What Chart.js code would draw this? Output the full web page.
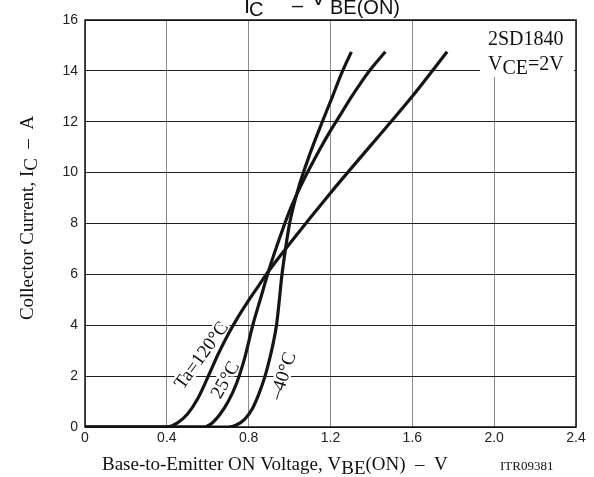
<!DOCTYPE html>
<html>
<head>
<meta charset="utf-8">
<title>IC - VBE(ON)</title>
<script src="https://cdn.jsdelivr.net/npm/chart.js@4.4.1/dist/chart.umd.min.js"></script>
<style>
  html, body { margin: 0; padding: 0; background: #fff; }
  #wrap { width: 594px; height: 477px; }
</style>
</head>
<body>
<div id="wrap"><canvas id="chart" width="594" height="477"></canvas></div>
<script>
// Base-to-emitter voltage (V) and collector current (A) for each temperature
const ta120V = [0, 0.40, 0.45, 0.50, 0.55, 0.60, 0.65, 0.70, 0.75, 0.80, 0.85, 0.90, 1.00, 1.20, 1.40, 1.60, 1.77];
const ta120I = [0, 0, 0.15, 0.5, 1.1, 1.95, 2.85, 3.65, 4.35, 4.98, 5.57, 6.15, 7.2, 9.2, 11.1, 13.0, 14.75];

const ta25V = [0, 0.58, 0.62, 0.66, 0.70, 0.74, 0.78, 0.82, 0.86, 0.90, 0.95, 1.00, 1.05, 1.10, 1.15, 1.20, 1.25, 1.30, 1.35, 1.40, 1.468];
const ta25I = [0, 0, 0.15, 0.5, 1.0, 1.7, 2.7, 4.0, 5.1, 6.2, 7.4, 8.5, 9.4, 10.2, 10.95, 11.65, 12.3, 12.95, 13.55, 14.1, 14.75];

const tam40V = [0, 0.70, 0.74, 0.78, 0.82, 0.85, 0.88, 0.90, 0.92, 0.936, 0.95, 0.96, 0.98, 1.00, 1.04, 1.10, 1.16, 1.21, 1.254, 1.302];
const tam40I = [0, 0, 0.08, 0.3, 0.75, 1.3, 2.0, 2.6, 3.3, 4.0, 5.0, 5.8, 7.0, 8.0, 9.3, 10.75, 12.0, 13.0, 13.9, 14.75];

// Axis ranges
const xMin = 0, xMax = 2.4, xStep = 0.4;
const yMin = 0, yMax = 16, yStep = 2;

// Curve labels: text, anchor in data units, rotation in degrees
const curveLabels = [
  { text: 'Ta=120°C', v: 0.572, i: 2.8, angle: -54 },
  { text: '25°C', v: 0.688, i: 1.84, angle: -60 },
  { text: '–40°C', v: 0.971, i: 2.0, angle: -72 }
];

const SERIF = '"Liberation Serif", "Times New Roman", serif';
const SANS = '"Liberation Sans", Arial, sans-serif';

function toPoints(xs, ys) {
  return xs.map((x, k) => ({ x: x, y: ys[k] }));
}

function curve(xs, ys) {
  return {
    data: toPoints(xs, ys),
    showLine: true,
    borderColor: '#151515',
    borderWidth: 3.2,
    pointRadius: 0,
    fill: false,
    cubicInterpolationMode: 'monotone'
  };
}

// draw a run of text pieces [text, font, dy] one after another
function partsWidth(ctx, parts) {
  let w = 0;
  parts.forEach(p => { ctx.font = p[1]; w += ctx.measureText(p[0]).width; });
  return w;
}
function drawParts(ctx, parts, x, y) {
  parts.forEach(p => {
    ctx.font = p[1];
    ctx.fillText(p[0], x, y + p[2]);
    x += ctx.measureText(p[0]).width;
  });
}

const decor = {
  id: 'decor',
  beforeDatasetsDraw(chart) {
    const ctx = chart.ctx;
    const area = chart.chartArea;
    const xs = chart.scales.x, ys = chart.scales.y;

    // white box behind the part number
    ctx.save();
    ctx.fillStyle = '#fff';
    ctx.fillRect(area.right - 96, area.top + 1, 94, 56);

    ctx.fillStyle = '#111';
    ctx.textAlign = 'left';
    ctx.textBaseline = 'alphabetic';
    drawParts(ctx, [['2SD1840', '20px ' + SERIF, 0]], area.right - 88, area.top + 25);
    drawParts(ctx, [
      ['V', '20px ' + SERIF, 0],
      ['CE', '20px ' + SERIF, 4],
      ['=2V', '20px ' + SERIF, 0]
    ], area.right - 88, area.top + 50);

    // temperature labels along the curves
    ctx.font = '19px ' + SERIF;
    ctx.textAlign = 'center';
    ctx.textBaseline = 'middle';
    curveLabels.forEach(l => {
      ctx.save();
      ctx.translate(xs.getPixelForValue(l.v), ys.getPixelForValue(l.i));
      ctx.rotate(l.angle * Math.PI / 180);
      ctx.strokeStyle = '#fff';
      ctx.lineWidth = 5;
      ctx.strokeText(l.text, 0, 0);
      ctx.fillStyle = '#111';
      ctx.fillText(l.text, 0, 0);
      ctx.restore();
    });
    ctx.restore();
  },
  afterDraw(chart) {
    const ctx = chart.ctx;
    const area = chart.chartArea;
    ctx.save();

    // frame
    ctx.strokeStyle = '#111';
    ctx.lineWidth = 1.5;
    ctx.strokeRect(area.left, area.top, area.right - area.left, area.bottom - area.top);

    ctx.fillStyle = '#111';
    ctx.textAlign = 'left';
    ctx.textBaseline = 'alphabetic';

    // title, cut off at the top edge
    drawParts(ctx, [['I', '22px ' + SANS, 0]], 244, 13);
    drawParts(ctx, [['C', '20px ' + SANS, 0]], 249, 16);
    drawParts(ctx, [['–', '20px ' + SANS, 0]], 292, 12);
    drawParts(ctx, [['V', '22px ' + SANS, 0]], 311, 5);
    drawParts(ctx, [['BE(ON)', '20px ' + SANS, 0]], 330, 14);

    // x axis title
    drawParts(ctx, [
      ['Base-to-Emitter ON Voltage, V', '19px ' + SERIF, 0],
      ['BE', '19px ' + SERIF, 4],
      ['(ON)  –  V', '19px ' + SERIF, 0]
    ], 102, 470);
    drawParts(ctx, [['ITR09381', '13px ' + SERIF, 0]], 500, 470);

    // y axis title
    const yParts = [
      ['Collector Current, I', '19px ' + SERIF, 0],
      ['C', '19px ' + SERIF, 4],
      ['  –  A', '19px ' + SERIF, 0]
    ];
    const w = partsWidth(ctx, yParts);
    ctx.translate(33, 218);
    ctx.rotate(-Math.PI / 2);
    drawParts(ctx, yParts, -w / 2, 0);

    ctx.restore();
  }
};

const chart = new Chart(document.getElementById('chart').getContext('2d'), {
  type: 'scatter',
  data: {
    datasets: [
      curve(ta120V, ta120I),
      curve(ta25V, ta25I),
      curve(tam40V, tam40I)
    ]
  },
  options: {
    responsive: false,
    animation: false,
    layout: { padding: { top: 20, right: 18, left: 0, bottom: 0 } },
    plugins: {
      legend: { display: false },
      tooltip: { enabled: false }
    },
    scales: {
      x: {
        type: 'linear',
        min: xMin,
        max: xMax,
        ticks: {
          stepSize: xStep,
          color: '#222',
          padding: 3,
          font: { family: SANS, size: 14 },
          callback: v => (v === 0 ? '0' : v.toFixed(1))
        },
        grid: { color: '#8c8c8c', lineWidth: 1, drawTicks: false },
        border: { display: false },
        afterFit: s => { s.height = 50; }
      },
      y: {
        type: 'linear',
        min: yMin,
        max: yMax,
        ticks: {
          stepSize: yStep,
          color: '#222',
          padding: 7,
          font: { family: SANS, size: 14 }
        },
        grid: { color: '#1e1e1e', lineWidth: 1, drawTicks: false },
        border: { display: false },
        afterFit: s => { s.width = 85; }
      }
    }
  },
  plugins: [decor]
});
</script>
</body>
</html>
